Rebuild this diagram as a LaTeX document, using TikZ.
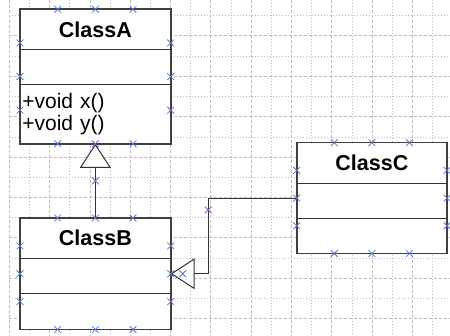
\documentclass[tikz,border=0pt]{standalone}
\usepackage{fontspec}
\setmainfont{Liberation Sans}
\usepackage{xcolor}
\usetikzlibrary{arrows.meta,positioning,calc,fit,shapes.misc}
\definecolor{handleblue}{RGB}{90,120,200}
\definecolor{gridgray}{RGB}{190,190,190}

\begin{document}
\begin{tikzpicture}[x=1pt,y=-1pt,font=\fontsize{21}{22}\selectfont,
  cls/.style={draw=black!80,line width=0.9pt,fill=white,minimum width=150.7pt,inner sep=0pt,outer sep=0pt},
  hd/.style={cls,anchor=north,minimum height=40.5pt,font=\fontsize{21.5}{22}\selectfont\bfseries},
  cmp/.style={cls,minimum height=35pt,align=left,text width=146pt},
  box/.style={draw=black!75,line width=1.6pt,inner sep=0pt,outer sep=0pt},
  hnd/.style={cross out,draw=handleblue,line width=0.8pt,minimum size=6pt,inner sep=0pt},
  gdot/.style={gridgray,line width=0.6pt,dash pattern=on 1pt off 2pt},
  gdash/.style={gridgray,line width=0.8pt,dash pattern=on 3pt off 2pt},
  inh/.style={-{Triangle[fill=white,length=24pt,width=31pt]},line width=1pt,draw=black!80}]
\useasboundingbox (0,0) rectangle (450,336);
% grid
\foreach \k in {0,...,21}{
  \pgfmathsetmacro{\gx}{9.3+20.15*\k}
  \ifodd\k \draw[gdot] (\gx,0) -- (\gx,336); \else \draw[gdash] (\gx,0) -- (\gx,336); \fi
}
\foreach \k in {0,...,15}{
  \pgfmathsetmacro{\gy}{15.7+20.2*\k}
  \ifodd\k \draw[gdash] (9.3,\gy) -- (450,\gy); \else \draw[gdot] (9.3,\gy) -- (450,\gy); \fi
}
% classes
\node[hd] (aT) at (95.35,9.3) {ClassA};
\node[cmp,below=0pt of aT] (aA) {};
\node[cmp,below=0pt of aA,minimum height=59pt] (aM) {+void x()\\+void y()};
\node[box,fit=(aT)(aM)] (classA) {};

\node[hd] (bT) at (95.35,218) {ClassB};
\node[cmp,below=0pt of bT] (bA) {};
\node[cmp,below=0pt of bA,minimum height=36pt] (bM) {};
\node[box,fit=(bT)(bM)] (classB) {};

\node[hd,minimum width=150.3pt] (cT) at (371.85,142.7) {ClassC};
\node[cmp,below=0pt of cT,minimum width=150.3pt,minimum height=35.3pt] (cA) {};
\node[cmp,below=0pt of cA,minimum width=150.3pt] (cM) {};
\node[box,fit=(cT)(cM)] (classC) {};
% connectors
\draw[inh] (classB.north) -- (classA.south);
\draw[inh] (classC.west) -| ([xshift=37.6pt]classB.east) -- (classB.east);
% handles
\foreach \b in {classA,classB,classC}{
  \foreach \f/\i in {0.25/1,0.5/2,0.75/3}{
    \node[hnd] (\b-n\i) at ($(\b.north west)!\f!(\b.north east)$) {};
    \node[hnd] (\b-s\i) at ($(\b.south west)!\f!(\b.south east)$) {};
    \node[hnd] (\b-w\i) at ($(\b.north west)!\f!(\b.south west)$) {};
    \node[hnd] (\b-e\i) at ($(\b.north east)!\f!(\b.south east)$) {};
  }
}
\node[hnd] (hAB) at ($(classA.south)!0.5!(classB.north)$) {};
\node[hnd] (hCB1) at (208.3,210) {};
\node[hnd] (hCB2) at ($(classB.east)+(12,0)$) {};
\end{tikzpicture}
\end{document}
